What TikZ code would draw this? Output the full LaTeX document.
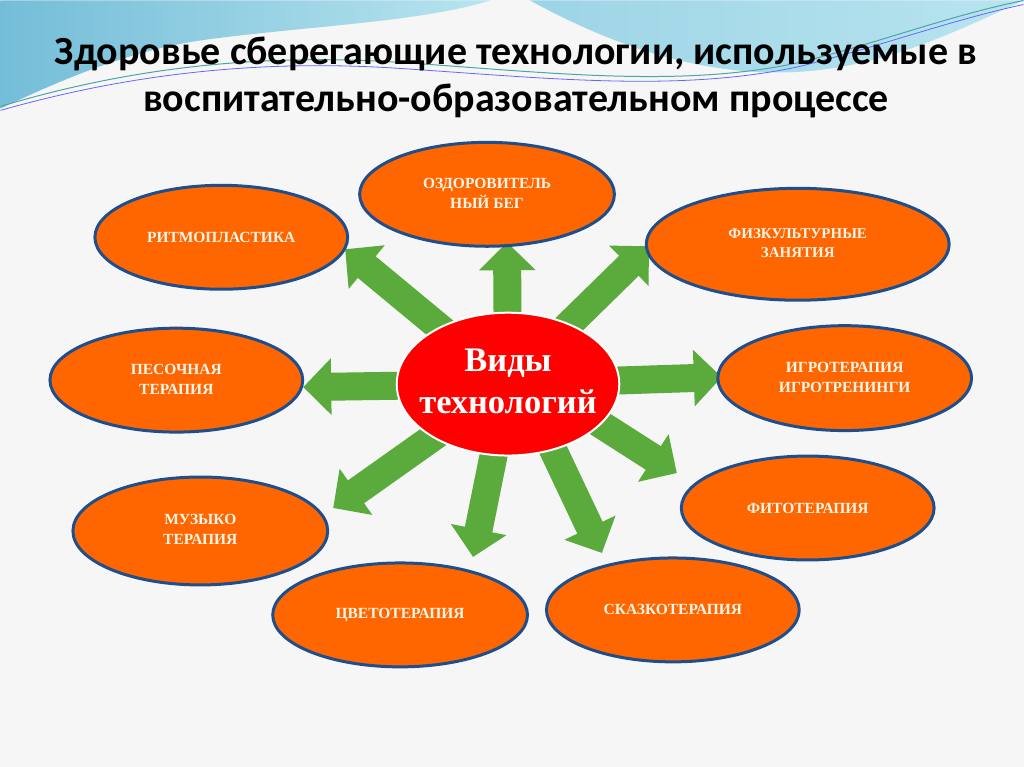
\documentclass[tikz,border=0pt]{standalone}
\usepackage{fontspec}
\setmainfont{Liberation Serif}
\newfontfamily\headfont{Carlito}
\usetikzlibrary{shapes.geometric,arrows.meta}
\definecolor{techorange}{HTML}{FF6600}
\definecolor{techblue}{HTML}{1F4E8C}
\definecolor{techgreen}{HTML}{5AAA3C}
\definecolor{techred}{HTML}{FF0000}
\definecolor{wavedark}{HTML}{74BDD8}
\definecolor{wavelight}{HTML}{B8E4EF}
\definecolor{labelwhite}{HTML}{FFF5E8}
\definecolor{slidebg}{HTML}{F6F6F6}
\begin{document}
\begin{tikzpicture}[x=1pt, y=-1pt,
            kind/.style={ellipse, fill=techorange, draw=techblue, line width=3pt, minimum width=253pt, minimum height=104pt, inner sep=0pt, text=labelwhite, font=\bfseries\fontsize{15.5}{20}\selectfont},
            core/.style={ellipse, fill=techred, draw=white, line width=2pt, minimum width=219pt, minimum height=143pt, inner xsep=-16pt, inner ysep=0pt, text=white, font=\bfseries\fontsize{34.5}{42}\selectfont},
            ray/.style={techgreen, line width=28pt, -{Triangle[length=28pt, width=55pt]}},
        ]
            \fill[slidebg] (0,0) rectangle (1024,767);
            % waves at the top
            \shade[left color=wavedark, right color=wavelight] (0,0) -- (490,0) .. controls (420,22) and (300,26) .. (200,40) .. controls (120,52) and (50,85) .. (0,108) -- cycle;
            \shade[left color=wavelight!60!wavedark, right color=wavelight] (530,0) -- (1024,0) .. controls (950,34) and (870,74) .. (770,72) .. controls (680,70) and (600,38) .. (530,0) -- cycle;
            \draw[teal!70, line width=1pt] (0,106) .. controls (120,70) and (250,52) .. (400,62) .. controls (550,72) and (680,88) .. (800,62) .. controls (880,42) and (950,15) .. (1024,0);
            \draw[blue!60, line width=.8pt] (0,110) .. controls (120,76) and (250,58) .. (400,68) .. controls (550,78) and (680,92) .. (800,66) .. controls (880,46) and (950,20) .. (1024,4);
            \node(headnode) at (516,78) {\headfont\bfseries\fontsize{40}{47}\selectfont\begin{tabular}{c} Здоровье сберегающие технологии, используемые в \\ воспитательно-образовательном процессе \end{tabular}};
            % arrows from the hub
            \coordinate(hub) at (508,384);
            \coordinate(tipup) at (507,242);
            \coordinate(tipupleft) at (345,249);
            \coordinate(tipupright) at (649,246);
            \coordinate(tipright) at (722,377);
            \coordinate(tipleft) at (303,387);
            \coordinate(tipdownright) at (677,473);
            \coordinate(tipdownleft) at (333,508);
            \coordinate(tipdown) at (473,557);
            \coordinate(tipdowntale) at (602,553);
            \draw[ray] (hub) -- (tipup);
            \draw[ray] (hub) -- (tipupleft);
            \draw[ray] (hub) -- (tipupright);
            \draw[ray] (hub) -- (tipright);
            \draw[ray] (hub) -- (tipleft);
            \draw[ray] ([xshift=30pt]hub) -- (tipdownright);
            \draw[ray] (hub) -- (tipdownleft);
            \draw[ray] (hub) -- (tipdown);
            \draw[ray] ([xshift=14pt]hub) -- (tipdowntale);
            % technologies
            \node(runnode) at (487,194) [kind, minimum width=255pt] {\begin{tabular}{c} ОЗДОРОВИТЕЛЬ \\ НЫЙ БЕГ \end{tabular}};
            \node(rhythmnode) at (221,237) [kind] {РИТМОПЛАСТИКА};
            \node(sandnode) at (176,380) [kind] {\begin{tabular}{c} ПЕСОЧНАЯ \\ ТЕРАПИЯ \end{tabular}};
            \node(sportnode) at (798,244) [kind, minimum width=303pt, minimum height=112pt, font=\bfseries\fontsize{15}{19}\selectfont] {\begin{tabular}{c} ФИЗКУЛЬТУРНЫЕ \\ ЗАНЯТИЯ \end{tabular}};
            \node(gamenode) at (845,378) [kind, minimum width=254pt, minimum height=105pt] {\begin{tabular}{c} ИГРОТЕРАПИЯ \\ ИГРОТРЕНИНГИ \end{tabular}};
            \node(herbnode) at (808,508) [kind] {ФИТОТЕРАПИЯ};
            \node(musicnode) at (200,531) [kind, minimum width=255pt, minimum height=108pt] {\begin{tabular}{c} МУЗЫКО \\ ТЕРАПИЯ \end{tabular}};
            \node(colournode) at (400,615) [kind, minimum width=255pt] {ЦВЕТОТЕРАПИЯ};
            \node(talenode) at (673,610) [kind] {СКАЗКОТЕРАПИЯ};
            \node(technode) at (hub) [core] {\begin{tabular}{c} Виды \\ технологий \end{tabular}};
        \end{tikzpicture}
\end{document}
